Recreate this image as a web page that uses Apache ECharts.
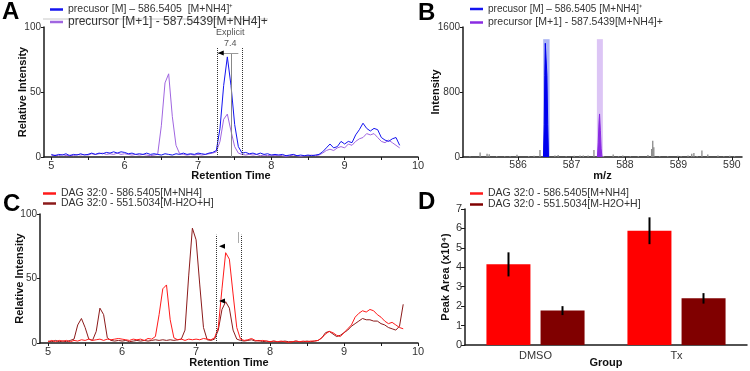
<!DOCTYPE html>
<html>
<head>
<meta charset="utf-8">
<script src="https://cdn.jsdelivr.net/npm/echarts@6/dist/echarts.min.js"></script>
<style>
html,body{margin:0;padding:0;background:#fff}
#chart{width:750px;height:371px}
</style>
</head>
<body>
<div id="chart"></div>
<script>
// retention time grid (min), shared by panels A and C
const rt = [
  5.00,5.05,5.10,5.15,5.20,5.25,5.30,5.35,5.40,5.45,
  5.50,5.55,5.60,5.65,5.70,5.75,5.80,5.85,5.90,5.95,
  6.00,6.05,6.10,6.15,6.20,6.25,6.30,6.35,6.40,6.45,
  6.50,6.55,6.60,6.65,6.70,6.75,6.80,6.85,6.90,6.95,
  7.00,7.05,7.10,7.15,7.20,7.25,7.30,7.35,7.40,7.45,
  7.50,7.55,7.60,7.65,7.70,7.75,7.80,7.85,7.90,7.95,
  8.00,8.05,8.10,8.15,8.20,8.25,8.30,8.35,8.40,8.45,
  8.50,8.55,8.60,8.65,8.70,8.75,8.80,8.85,8.90,8.95,
  9.00,9.05,9.10,9.15,9.20,9.25,9.30,9.35,9.40,9.45,
  9.50,9.55,9.60,9.65,9.70,9.75,9.80
];
// A: precursor [M] (blue) and [M+1] (purple), relative intensity
const ionM = [
  2,1,2,1.5,2.5,1,2,1.5,2.5,1.5,
  2,3,2,3,2.5,3.5,3,4,3,4,
  3.5,2.5,3,2,2.5,2,3,2,2.5,2,
  1.5,2.5,2,1.5,2.5,2,3,2,2.5,2,
  3,2.5,2,3,3.5,5,22,55,77,55,
  25,8,3,3.5,2.5,3,2,3,2,2.5,
  1.5,2,1.5,2,1,1.5,2,1,1.5,1,
  1.5,1,1.5,2,4,7,10,7,8,12,
  10,12,11,17,21,26,22,20,22,21,
  15,13,12,14,15,9,null
];
const ionM1 = [
  1,1.5,1,2,1,1.5,1,2,1.5,2,
  1.5,2.5,2,2.5,3,2,2.5,2,3,2,
  2.5,2,1.5,2,1.5,2,1.5,1,1.5,2,
  24,57,64,31,9,2.5,2,1.5,2,1.5,
  2,1.5,2,2.5,3,4,12,29,33,20,
  8,3,2,1.5,2,1.5,2,1,1.5,1,
  1.5,1,1.5,1,0.5,1,1.5,1,0.5,1,
  1,1.5,1,1.5,3,5,6,5,7,8,
  7,10,9,12,14,15,18,17,18,15,
  12,11,13,11,9,7,null
];
// C: DAG 32:0 transitions
const dagNH4 = [
  1,2,1,2,1.5,2,1,2,1.5,2.5,
  2,3,2,2.5,3,2,3,2.5,3,3.5,
  3,2.5,2,3,2.5,3,2,3.5,3,5,
  22,42,45,18,4,2.5,3,2,3,2.5,
  3,2.5,3.5,3,2.5,4,12,42,70,65,
  38,12,3,2,2.5,3.5,2,1.5,2,1.5,
  1,1.5,1,1.5,1,0.5,1,1.5,1,1.5,
  1,1.5,1.5,2,4,7,9,8,6,5,
  8,11,14,20,23,25,24,26,25,22,
  20,17,15,16,14,12,11
];
const dagH2O = [
  1.5,1,2,1,1.5,1,2,3,14,19,
  12,3,2,9,27,22,4,2,1.5,2,
  1.5,2,1,1.5,2,1.5,2,1.5,2,2.5,
  2,2.5,2,2.5,2,2.5,3,10,52,89,
  80,45,12,2.5,2,3,10,26,32,27,
  10,3,2,1.5,2,2.5,1.5,2,1,1.5,
  1,1.5,1,1,1.5,1,1,1.5,1,1,
  1.5,1,1.5,2,4,8,9,7,5,6,
  8,10,13,15,17,19,18,18,17,17,
  15,14,12,11,10,13,30
];
// B: MS1 spectrum
const spikeMz  = [585.10,585.29,585.42,585.46,585.60,585.75,585.85,585.98,586.20,586.30,586.41,586.69,586.75,586.90,587.05,587.16,587.22,587.31,587.42,587.60,587.78,587.88,587.96,588.10,588.25,588.43,588.50,588.52,588.54,588.65,588.80,588.99,589.05,589.18,589.25,589.29,589.35,589.44,589.55,589.74,589.85,589.96,590.05];
const spikeInt = [10,55,40,35,12,8,10,28,12,15,85,20,25,10,15,20,18,20,85,12,30,10,20,8,12,25,100,200,120,10,8,15,10,20,40,50,12,80,30,18,8,15,10];
const peakM  = [[586.475,0],[586.49,400],[586.50,1000],[586.51,1400],[586.525,1380],[586.54,1000],[586.555,400],[586.57,0]];
const peakM1 = [[587.485,0],[587.50,180],[587.515,430],[587.525,530],[587.54,330],[587.555,100],[587.57,0]];
const isoWindows = [[586.47,586.59,1450],[587.475,587.587,1450]];
// annotation windows (min, relative intensity)
const windowA = [7.26, 7.61], windowTopA = 84, explicitRtA = 7.46, explicitTopA = 80;
const windowC = [7.27, 7.61], windowTopC = 84;
const greyMarksC = [[7.31,91.5,101.5],[7.565,77.5,86]];
const arrowsC = [[7.35,75],[7.35,32.5]];
// D: peak areas (x10^4)
const groups = ['DMSO','Tx'];
const areaNH4 = [4.15, 5.88], errNH4 = [0.62, 0.69];
const areaH2O = [1.77, 2.40], errH2O = [0.23, 0.27];

const rtLabels = [5,6,7,8,9,10];
const rtTicks = [5,5.5,6,6.5,7,7.5,8,8.5,9,9.5,10];
const mzLabels = [586,587,588,589,590];

const names = {
  mA: 'precusor [M] – 586.5405  [M+NH4]\u207A',
  m1A: 'precursor [M+1] - 587.5439[M+NH4]+',
  mB: 'precusor [M] – 586.5405 [M+NH4]\u207A',
  m1B: 'precursor [M+1] - 587.5439[M+NH4]+ ',
  nh4: 'DAG 32:0 - 586.5405[M+NH4]',
  h2o: 'DAG 32:0 - 551.5034[M-H2O+H]'
};
const BLUE = '#1414f0', PURPLE = '#a066e0', PURPLE2 = '#8a2be2', RED = '#ff1a1a', DARK = '#8b1a1a';
const FONT = "'Liberation Sans', Arial, sans-serif";

const chart = echarts.init(document.getElementById('chart'));
const pairs = (xs, ys) => xs.map((x, i) => [x, ys[i]]);

const axisLine = {lineStyle:{color:'#1a1a1a', width:1.5}};
const tickLabel = (size) => ({color:'#333', fontSize:size, fontFamily:FONT, margin:3, formatter:(v) => String(v)});
const nameStyle = {fontWeight:'bold', fontSize:11, color:'#111', fontFamily:FONT};

function oneLegend(name, color, left, top, size){
  return {data:[{name:name, itemStyle:{color:color}}], left:left, top:top, padding:0,
    icon:'rect', itemWidth:13, itemHeight:2.5, selectedMode:false,
    textStyle:{fontSize:size, color:'#333', fontFamily:FONT}};
}
function vline(x, y0, y1, type, color){
  return [{coord:[x,y0], lineStyle:{type:type, color:color, width:1}}, {coord:[x,y1]}];
}
function errBars(vals, errs, offset){
  return {type:'custom', xAxisIndex:3, yAxisIndex:3, z:5,
    data: vals.map((v, i) => [i, v - errs[i], v + errs[i]]),
    renderItem(params, api){
      const lo = api.coord([api.value(0), api.value(1)]);
      const hi = api.coord([api.value(0), api.value(2)]);
      const x = lo[0] + offset;
      return {type:'line', shape:{x1:x, y1:lo[1], x2:x, y2:hi[1]}, style:{stroke:'#000', lineWidth:2}};
    }};
}

const option = {
  backgroundColor:'#fff',
  animation:false,
  title:[
    {text:'A', left:2, top:0, padding:0, textStyle:{fontSize:24, fontWeight:'bold', color:'#000', fontFamily:FONT}},
    {text:'B', left:418, top:1, padding:0, textStyle:{fontSize:24, fontWeight:'bold', color:'#000', fontFamily:FONT}},
    {text:'C', left:3, top:192, padding:0, textStyle:{fontSize:24, fontWeight:'bold', color:'#000', fontFamily:FONT}},
    {text:'D', left:418, top:190, padding:0, textStyle:{fontSize:24, fontWeight:'bold', color:'#000', fontFamily:FONT}}
  ],
  legend:[
    oneLegend(names.mA, BLUE, 50, 4, 10.5),
    oneLegend(names.m1A, PURPLE, 50, 16, 12),
    oneLegend(names.mB, BLUE, 470, 4, 10),
    oneLegend(names.m1B, PURPLE2, 470, 17, 10.5),
    oneLegend(names.nh4, RED, 43, 188, 10.5),
    oneLegend(names.h2o, DARK, 43, 198, 10.5),
    oneLegend(names.nh4, RED, 470, 188, 10.5),
    oneLegend(names.h2o, '#800000', 470, 199, 10.5)
  ],
  graphic:[
    {type:'line', shape:{x1:43, y1:19, x2:268, y2:19}, style:{stroke:'#c8c8c8', lineWidth:1}, silent:true}
  ],
  grid:[
    {left:44, top:27, width:374, height:130, outerBoundsMode:'none'},
    {left:463, top:27, width:279, height:130, outerBoundsMode:'none'},
    {left:40, top:214, width:378, height:129, outerBoundsMode:'none'},
    {left:465, top:209, width:282, height:136, outerBoundsMode:'none'}
  ],
  xAxis:[
    {gridIndex:0, type:'value', min:4.9, max:10, axisLine:axisLine,
      axisTick:{customValues:rtTicks, length:3, lineStyle:{color:'#1a1a1a'}},
      axisLabel:Object.assign(tickLabel(11), {customValues:rtLabels}), splitLine:{show:false},
      name:'Retention Time', nameLocation:'middle', nameGap:13, nameMoveOverlap:false, nameTextStyle:nameStyle},
    {gridIndex:1, type:'value', min:584.97, max:590.19, axisLine:axisLine,
      axisTick:{customValues:mzLabels, length:3, lineStyle:{color:'#1a1a1a'}},
      axisLabel:Object.assign(tickLabel(10.5), {customValues:mzLabels}), splitLine:{show:false},
      name:'m/z', nameLocation:'middle', nameGap:13, nameMoveOverlap:false, nameTextStyle:nameStyle},
    {gridIndex:2, type:'value', min:4.89, max:10, axisLine:axisLine,
      axisTick:{customValues:rtTicks, length:3, lineStyle:{color:'#1a1a1a'}},
      axisLabel:Object.assign(tickLabel(11), {customValues:rtLabels}), splitLine:{show:false},
      name:'Retention Time', nameLocation:'middle', nameGap:14, nameMoveOverlap:false, nameTextStyle:nameStyle},
    {gridIndex:3, type:'category', data:groups, boundaryGap:true, axisLine:axisLine,
      axisTick:{alignWithLabel:true, length:4, lineStyle:{color:'#1a1a1a'}},
      axisLabel:{color:'#333', fontSize:11, fontFamily:FONT, margin:5},
      name:'Group', nameLocation:'middle', nameGap:12, nameMoveOverlap:false, nameTextStyle:nameStyle}
  ],
  yAxis:[
    {gridIndex:0, type:'value', min:0, max:100, interval:50, axisLine:Object.assign({show:true}, axisLine),
      axisTick:{show:true, length:3, lineStyle:{color:'#1a1a1a'}}, axisLabel:tickLabel(10), splitLine:{show:false},
      name:'Relative Intensity', nameLocation:'middle', nameGap:16, nameMoveOverlap:false, nameTextStyle:nameStyle},
    {gridIndex:1, type:'value', min:0, max:1600, interval:800, axisLine:Object.assign({show:true}, axisLine),
      axisTick:{show:true, length:3, lineStyle:{color:'#1a1a1a'}}, axisLabel:tickLabel(10), splitLine:{show:false},
      name:'Intensity', nameLocation:'middle', nameGap:22, nameMoveOverlap:false, nameTextStyle:nameStyle},
    {gridIndex:2, type:'value', min:0, max:100, interval:50, axisLine:Object.assign({show:true}, axisLine),
      axisTick:{show:true, length:3, lineStyle:{color:'#1a1a1a'}}, axisLabel:tickLabel(10), splitLine:{show:false},
      name:'Relative Intensity', nameLocation:'middle', nameGap:15, nameMoveOverlap:false, nameTextStyle:nameStyle},
    {gridIndex:3, type:'value', min:0, max:7, interval:1, axisLine:Object.assign({show:true}, axisLine),
      axisTick:{show:true, length:4, lineStyle:{color:'#1a1a1a'}}, axisLabel:tickLabel(11), splitLine:{show:false},
      name:'Peak Area (x10\u2074)', nameLocation:'middle', nameGap:14, nameMoveOverlap:false, nameTextStyle:nameStyle}
  ],
  series:[
    // A
    {name:names.m1A, type:'line', xAxisIndex:0, yAxisIndex:0, data:pairs(rt, ionM1), showSymbol:false,
      lineStyle:{color:PURPLE, width:1}, itemStyle:{color:PURPLE}},
    {name:names.mA, type:'line', xAxisIndex:0, yAxisIndex:0, data:pairs(rt, ionM), showSymbol:false,
      lineStyle:{color:BLUE, width:1}, itemStyle:{color:BLUE}, clip:false,
      markLine:{silent:true, symbol:'none', label:{show:false},
        data:[
          vline(windowA[0], 0, windowTopA, 'dotted', '#333'),
          vline(windowA[1], 0, windowTopA, 'dotted', '#333'),
          vline(explicitRtA, 0, explicitTopA, 'solid', '#888'),
          [{coord:[windowA[0] + 0.01, explicitTopA], lineStyle:{type:'solid', color:'#999', width:1}}, {coord:[explicitRtA + 0.09, explicitTopA]}]
        ]},
      markPoint:{silent:true, data:[
        {coord:[windowA[0] + 0.05, explicitTopA], symbol:'triangle', symbolRotate:90, symbolSize:[5,6], itemStyle:{color:'#000'}, label:{show:false}},
        {coord:[explicitRtA - 0.02, 91.5], symbolSize:0, label:{show:true, position:'inside', formatter:'Explicit\n7.4', fontSize:9, lineHeight:11, color:'#555', fontFamily:FONT}}
      ]}},
    // B
    {type:'custom', xAxisIndex:1, yAxisIndex:1, z:1, data:isoWindows,
      renderItem(params, api){
        const a = api.coord([api.value(0), api.value(2)]);
        const b = api.coord([api.value(1), 0]);
        const fill = params.dataIndex === 0 ? 'rgba(90,110,235,0.5)' : 'rgba(185,140,235,0.5)';
        return {type:'rect', shape:{x:a[0], y:a[1], width:b[0] - a[0], height:b[1] - a[1]}, style:{fill:fill}};
      }},
    {type:'custom', xAxisIndex:1, yAxisIndex:1, z:2, data:pairs(spikeMz, spikeInt),
      renderItem(params, api){
        const p0 = api.coord([api.value(0), 0]);
        const p1 = api.coord([api.value(0), api.value(1)]);
        return {type:'line', shape:{x1:p0[0], y1:p0[1], x2:p1[0], y2:p1[1]}, style:{stroke:'#8a8a8a', lineWidth:1.3}};
      }},
    {name:names.mB, type:'line', xAxisIndex:1, yAxisIndex:1, z:3, data:peakM, showSymbol:false,
      lineStyle:{color:'#0000ee', width:1}, itemStyle:{color:'#0000ee'}, areaStyle:{color:'#0000ee', opacity:1}},
    {name:names.m1B, type:'line', xAxisIndex:1, yAxisIndex:1, z:3, data:peakM1, showSymbol:false,
      lineStyle:{color:PURPLE2, width:1}, itemStyle:{color:PURPLE2}, areaStyle:{color:PURPLE2, opacity:1}},
    // C
    {name:names.h2o, type:'line', xAxisIndex:2, yAxisIndex:2, data:pairs(rt, dagH2O), showSymbol:false,
      lineStyle:{color:DARK, width:1}, itemStyle:{color:DARK}},
    {name:names.nh4, type:'line', xAxisIndex:2, yAxisIndex:2, data:pairs(rt, dagNH4), showSymbol:false,
      lineStyle:{color:RED, width:1}, itemStyle:{color:RED}, clip:false,
      markLine:{silent:true, symbol:'none', label:{show:false},
        data:[
          vline(windowC[0], 0, windowTopC, 'dotted', '#333'),
          vline(windowC[1], 0, windowTopC, 'dotted', '#333'),
          vline(greyMarksC[0][0], greyMarksC[0][1], greyMarksC[0][2], 'solid', '#aaa'),
          vline(greyMarksC[1][0], greyMarksC[1][1], greyMarksC[1][2], 'solid', '#aaa')
        ]},
      markPoint:{silent:true, data:arrowsC.map(a => ({coord:a, symbol:'triangle', symbolRotate:90, symbolSize:[5,6], itemStyle:{color:'#000'}, label:{show:false}}))}},
    // D
    {name:names.nh4, type:'bar', xAxisIndex:3, yAxisIndex:3, data:areaNH4, barWidth:44, barGap:'23%',
      itemStyle:{color:'#ff0000'}},
    {name:names.h2o, type:'bar', xAxisIndex:3, yAxisIndex:3, data:areaH2O, barWidth:44, barGap:'23%',
      itemStyle:{color:'#800000'}},
    errBars(areaNH4, errNH4, -27),
    errBars(areaH2O, errH2O, 27)
  ]
};
chart.setOption(option);
</script>
</body>
</html>
